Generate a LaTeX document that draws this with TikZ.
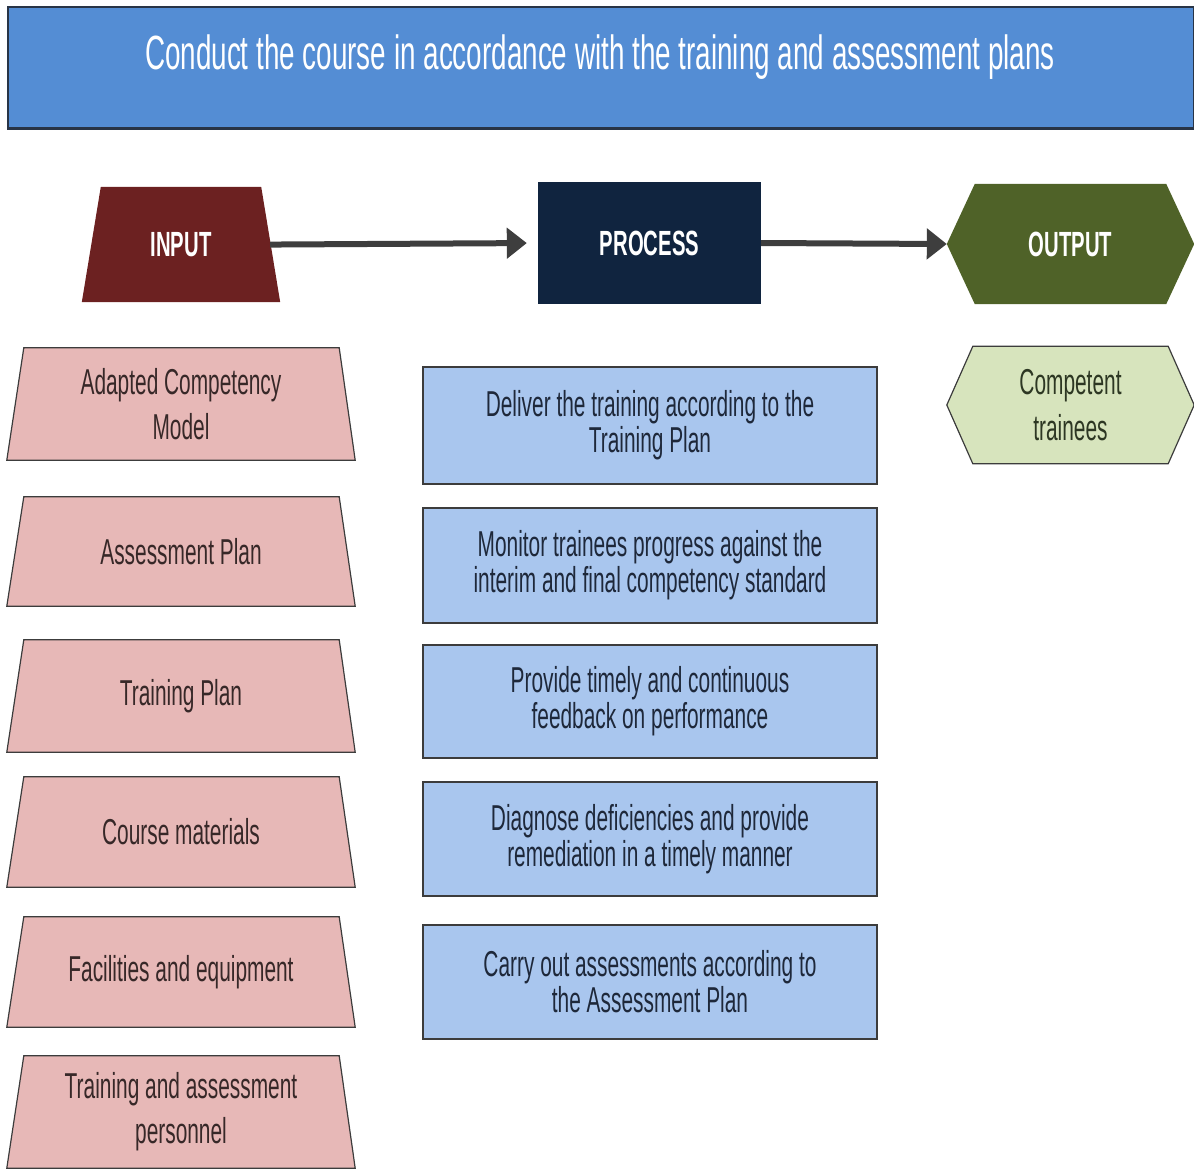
\documentclass[tikz,border=0pt]{standalone}
\usepackage{fontspec}
\setmainfont[FakeStretch=0.58]{Liberation Sans}
\usetikzlibrary{arrows.meta,backgrounds}
\definecolor{titleblue}{RGB}{84,141,212}
\definecolor{titleline}{RGB}{40,52,70}
\definecolor{inred}{RGB}{108,33,33}
\definecolor{procnavy}{RGB}{16,36,63}
\definecolor{outgreen}{RGB}{79,98,40}
\definecolor{pinkfill}{RGB}{231,184,183}
\definecolor{bluefill}{RGB}{169,198,238}
\definecolor{greenfill}{RGB}{215,228,189}
\definecolor{edgegray}{RGB}{60,60,60}
\definecolor{arrowgray}{RGB}{62,62,62}
\definecolor{intext}{RGB}{55,40,40}
\definecolor{proctext}{RGB}{30,40,58}
\definecolor{outtext}{RGB}{45,55,35}
\tikzset{
  headlbl/.style={inner sep=0pt, text=white, font=\fontsize{35}{40}\selectfont\bfseries},
  inbox/.style={minimum width=348pt, minimum height=#1, inner sep=0pt, align=center, text=intext, font=\fontsize{36}{45}\selectfont},
  procbox/.style={minimum width=454pt, minimum height=#1, inner sep=0pt, align=center, text=proctext, draw=edgegray, line width=1.4pt, fill=bluefill, font=\fontsize{36}{36}\selectfont},
  flowarrow/.style={draw=arrowgray, line width=6pt, -{Triangle[length=20pt,width=30pt]}},
  shapeedge/.style={draw=edgegray, line width=1.2pt}
}
\begin{document}
\begin{tikzpicture}[x=1pt,y=-1pt]
\useasboundingbox (0,0) rectangle (1194,1168);
% title
\node[minimum width=1186pt, minimum height=121pt, inner sep=0pt, fill=titleblue, draw=titleline, line width=1.2pt] (titlebox) at (601,67.5) {};
\draw[titleline, line width=3pt] (titlebox.south west) -- (titlebox.south east);
\node[inner sep=0pt, text=white, font=\fontsize{48}{50}\selectfont] (titletext) at (600,57) {Conduct the course in accordance with the training and assessment plans};
% headers
\node[headlbl, minimum width=198pt, minimum height=115pt] (inp) at (181,244.5) {INPUT};
\node[headlbl, minimum width=223pt, minimum height=122pt, fill=procnavy] (proc) at (649.5,243) {PROCESS};
\node[headlbl, minimum width=247pt, minimum height=120pt] (outp) at (1070.5,244) {OUTPUT};
\begin{scope}[on background layer]
  \fill[inred] (inp.south west) -- (inp.south east) -- ([xshift=-19pt]inp.north east) -- ([xshift=19pt]inp.north west) -- cycle;
  \fill[outgreen] (outp.west) -- ([xshift=28pt]outp.north west) -- ([xshift=-28pt]outp.north east) -- (outp.east) -- ([xshift=-28pt]outp.south east) -- ([xshift=28pt]outp.south west) -- cycle;
\end{scope}
\draw[flowarrow, shorten <=-10pt, shorten >=11pt] (inp.east) -- (proc.west);
\draw[flowarrow] (proc.east) -- (outp.west);
% input boxes
\foreach \n/\y/\h/\t in {in1/404/112/{Adapted Competency\\Model}, in2/551.5/109/{Assessment Plan}, in3/696/112/{Training Plan}, in4/832/110/{Course materials}, in5/972/110/{Facilities and equipment}, in6/1112/112/{Training and assessment\\personnel}}{
  \node[inbox=\h pt] (\n) at (181,\y) {\t};
  \begin{scope}[on background layer]
    \filldraw[fill=pinkfill, shapeedge] (\n.south west) -- (\n.south east) -- ([xshift=-16pt]\n.north east) -- ([xshift=17pt]\n.north west) -- cycle;
  \end{scope}
}
% process boxes
\node[procbox=117pt] (p1) at (650,425.5) {Deliver the training according to the\\Training Plan};
\node[procbox=115pt] (p2) at (650,565.5) {Monitor trainees progress against the\\interim and final competency standard};
\node[procbox=113pt] (p3) at (650,701.5) {Provide timely and continuous\\feedback on performance};
\node[procbox=114pt] (p4) at (650,839) {Diagnose deficiencies and provide\\remediation in a timely manner};
\node[procbox=114pt] (p5) at (650,982) {Carry out assessments according to\\the Assessment Plan};
% output box
\node[minimum width=247pt, minimum height=117pt, inner sep=0pt, align=center, text=outtext, font=\fontsize{36}{46}\selectfont] (comp) at (1070.5,405) {Competent\\trainees};
\begin{scope}[on background layer]
  \filldraw[fill=greenfill, shapeedge] (comp.west) -- ([xshift=26pt]comp.north west) -- ([xshift=-26pt]comp.north east) -- (comp.east) -- ([xshift=-26pt]comp.south east) -- ([xshift=26pt]comp.south west) -- cycle;
\end{scope}
\end{tikzpicture}
\end{document}
